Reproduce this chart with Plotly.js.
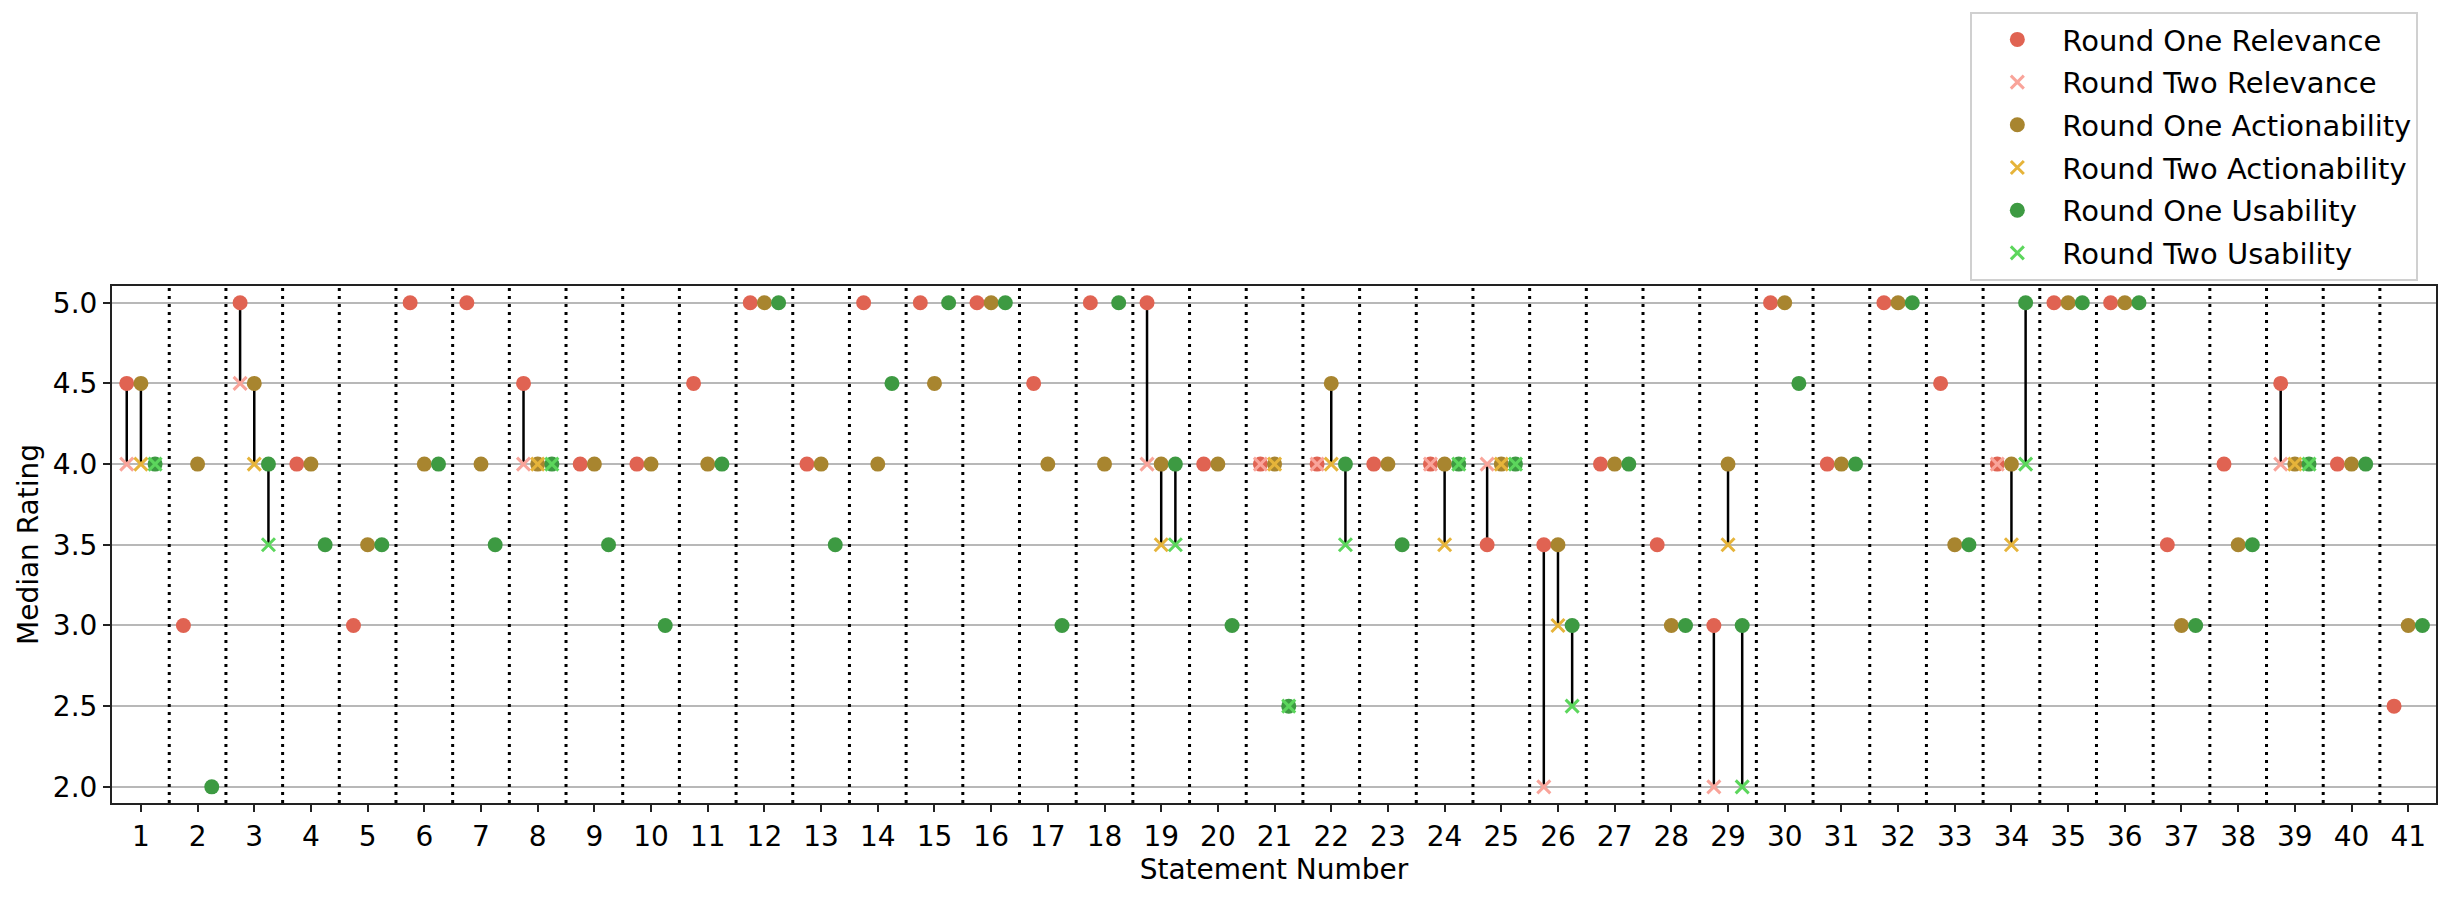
<!DOCTYPE html>
<html>
<head>
<meta charset="utf-8">
<script src="https://cdn.plot.ly/plotly-3.0.1.min.js"></script>
<style>html,body{margin:0;padding:0;background:#fff;}#chart{width:2452px;height:897px;}</style>
</head>
<body>
<div id="chart"></div>
<script>
const statements = Array.from({length: 41}, (_, i) => i + 1);

const r1Relevance = [4.5,3.0,5.0,4.0,3.0,5.0,5.0,4.5,4.0,4.0,4.5,5.0,4.0,5.0,5.0,5.0,4.5,5.0,5.0,4.0,4.0,4.0,4.0,4.0,3.5,3.5,4.0,3.5,3.0,5.0,4.0,5.0,4.5,4.0,5.0,5.0,3.5,4.0,4.5,4.0,2.5];
const r2Relevance = [4.0,null,4.5,null,null,null,null,4.0,null,null,null,null,null,null,null,null,null,null,4.0,null,4.0,4.0,null,4.0,4.0,2.0,null,null,2.0,null,null,null,null,4.0,null,null,null,null,4.0,null,null];
const r1Actionability = [4.5,4.0,4.5,4.0,3.5,4.0,4.0,4.0,4.0,4.0,4.0,5.0,4.0,4.0,4.5,5.0,4.0,4.0,4.0,4.0,4.0,4.5,4.0,4.0,4.0,3.5,4.0,3.0,4.0,5.0,4.0,5.0,3.5,4.0,5.0,5.0,3.0,3.5,4.0,4.0,3.0];
const r2Actionability = [4.0,null,4.0,null,null,null,null,4.0,null,null,null,null,null,null,null,null,null,null,3.5,null,4.0,4.0,null,3.5,4.0,3.0,null,null,3.5,null,null,null,null,3.5,null,null,null,null,4.0,null,null];
const r1Usability = [4.0,2.0,4.0,3.5,3.5,4.0,3.5,4.0,3.5,3.0,4.0,5.0,3.5,4.5,5.0,5.0,3.0,5.0,4.0,3.0,2.5,4.0,3.5,4.0,4.0,3.0,4.0,3.0,3.0,4.5,4.0,5.0,3.5,5.0,5.0,5.0,3.0,3.5,4.0,4.0,3.0];
const r2Usability = [4.0,null,3.5,null,null,null,null,4.0,null,null,null,null,null,null,null,null,null,null,3.5,null,2.5,3.5,null,4.0,4.0,2.5,null,null,2.0,null,null,null,null,4.0,null,null,null,null,4.0,null,null];

const yTicks = [2.0,2.5,3.0,3.5,4.0,4.5,5.0];

const colors = {
  r1Rel: '#E06352', r2Rel: '#F9A49A',
  r1Act: '#A8852F', r2Act: '#E6B43A',
  r1Use: '#3D9A42', r2Use: '#5CD65C'
};
const FONT = 'DejaVu Sans, Liberation Sans, sans-serif';
const OFF = 0.25;

const groups = [
  {off: -OFF, r1: r1Relevance, r2: r2Relevance, c1: colors.r1Rel, c2: colors.r2Rel, n1: 'Round One Relevance', n2: 'Round Two Relevance'},
  {off: 0, r1: r1Actionability, r2: r2Actionability, c1: colors.r1Act, c2: colors.r2Act, n1: 'Round One Actionability', n2: 'Round Two Actionability'},
  {off: OFF, r1: r1Usability, r2: r2Usability, c1: colors.r1Use, c2: colors.r2Use, n1: 'Round One Usability', n2: 'Round Two Usability'}
];

// connector lines between round one and round two values
const lx = [], ly = [];
groups.forEach(g => {
  statements.forEach((s, i) => {
    if (g.r2[i] !== null && g.r2[i] !== g.r1[i]) {
      lx.push(s + g.off, s + g.off, null);
      ly.push(g.r1[i], g.r2[i], null);
    }
  });
});

const traces = [{
  x: lx, y: ly, mode: 'lines', type: 'scatter',
  line: {color: '#000', width: 2.5}, showlegend: false, hoverinfo: 'skip'
}];

const markerTraces = [];
groups.forEach((g, gi) => {
  markerTraces.push({
    x: statements.map(s => s + g.off), y: g.r1, mode: 'markers', type: 'scatter', name: g.n1,
    legendgroup: 'g' + (gi * 2), legendrank: gi * 2 + 1,
    marker: {symbol: 'circle', size: 15, color: g.c1}
  });
  markerTraces.push({
    x: statements.map(s => s + g.off), y: g.r2, mode: 'markers', type: 'scatter', name: g.n2,
    legendgroup: 'g' + (gi * 2 + 1), legendrank: gi * 2 + 2,
    marker: {symbol: 'x-thin', size: 13, color: g.c2, line: {color: g.c2, width: 3}}
  });
});
// circles first, crosses on top
[0, 2, 4, 1, 3, 5].forEach(k => traces.push(markerTraces[k]));

const shapes = statements.slice(0, -1).map(s => ({
  type: 'line', xref: 'x', yref: 'paper', x0: s + 0.5, x1: s + 0.5, y0: 0, y1: 1,
  line: {color: '#000', width: 3, dash: '3px,5px'}, layer: 'above'
}));

const layout = {
  width: 2452, height: 897,
  margin: {l: 112, r: 16, t: 283, b: 94},
  paper_bgcolor: '#fff', plot_bgcolor: '#fff',
  font: {family: FONT, size: 28, color: '#000'},
  showlegend: true,
  legend: {
    x: 0.9924, xanchor: 'right', y: 1.0096, yanchor: 'bottom',
    bgcolor: '#fff', bordercolor: '#d0d0d0', borderwidth: 2,
    font: {family: FONT, size: 29, color: '#000'},
    itemwidth: 80, traceorder: 'grouped', tracegroupgap: 2
  },
  xaxis: {
    range: [0.49, 41.49], tickvals: statements, ticktext: statements.map(String),
    showgrid: false, zeroline: false, ticks: 'outside', ticklen: 7, tickwidth: 2, tickcolor: '#222',
    showline: true, linecolor: '#222', linewidth: 2, mirror: true,
    tickfont: {family: FONT, size: 28, color: '#000'},
    title: {text: 'Statement Number', font: {family: FONT, size: 28, color: '#000'}, standoff: 6}
  },
  yaxis: {
    range: [1.9, 5.1035], tickvals: yTicks, ticktext: yTicks.map(v => v.toFixed(1)),
    showgrid: true, gridcolor: '#b8b8b8', gridwidth: 2, zeroline: false,
    ticks: 'outside', ticklen: 7, tickwidth: 2, tickcolor: '#222',
    showline: true, linecolor: '#222', linewidth: 2, mirror: true,
    tickfont: {family: FONT, size: 28, color: '#000'},
    title: {text: 'Median Rating', font: {family: FONT, size: 28, color: '#000'}, standoff: 6}
  },
  shapes: shapes
};

Plotly.newPlot('chart', traces, layout, {displayModeBar: false, staticPlot: true});
</script>
</body>
</html>
